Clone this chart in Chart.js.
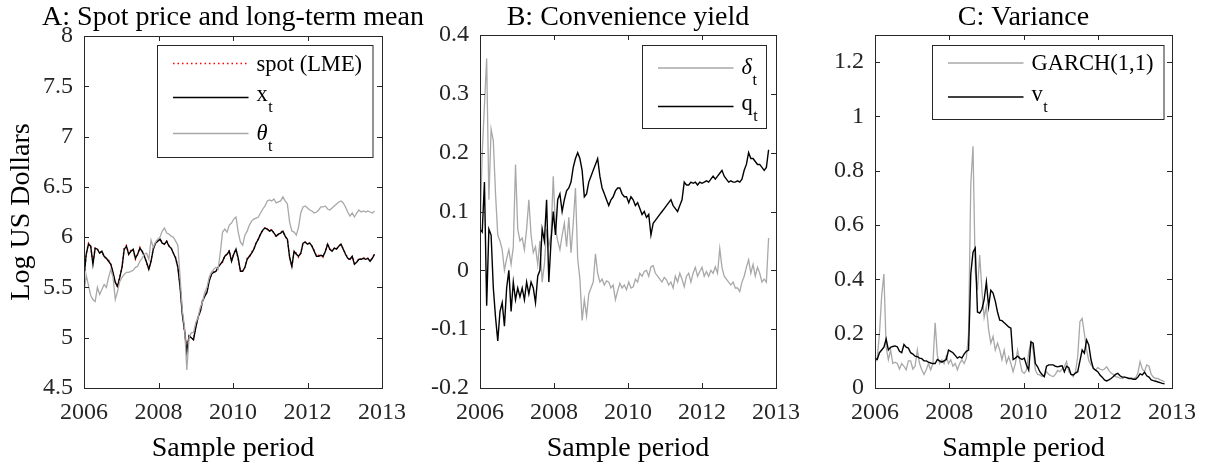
<!DOCTYPE html>
<html>
<head>
<meta charset="utf-8">
<script src="https://cdn.jsdelivr.net/npm/chart.js@4.4.1/dist/chart.umd.min.js"></script>
<style>
  html, body { margin: 0; padding: 0; background: #fff; }
  #wrap { position: relative; width: 1207px; height: 466px; }
  canvas { position: absolute; left: 0; top: 0; }
</style>
</head>
<body>
<div id="wrap">
  <canvas id="panelA" width="1207" height="466"></canvas>
  <canvas id="panelB" width="1207" height="466"></canvas>
  <canvas id="panelC" width="1207" height="466"></canvas>
</div>
<script>
const weekStep = 3;
const xTickValues = [0, 100, 200, 300, 400];
const xTickLabels = ["2006", "2008", "2010", "2012", "2013"];

// A: spot price and long-term mean
const spotLME = [
  5.58, 5.84, 5.94, 5.91, 5.74, 5.9, 5.88, 5.85, 5.86, 5.8,
  5.79, 5.77, 5.73, 5.64, 5.56, 5.5, 5.61, 5.7, 5.9, 5.92,
  5.83, 5.87, 5.88, 5.78, 5.83, 5.9, 5.86, 5.82, 5.74, 5.68,
  5.77, 5.89, 5.94, 5.97, 5.98, 5.95, 5.93, 5.96, 5.92, 5.89,
  5.84, 5.8, 5.7, 5.52, 5.25, 5.06, 4.87, 5.03, 4.99, 4.98,
  5.11, 5.21, 5.25, 5.37, 5.41, 5.46, 5.57, 5.62, 5.65, 5.67,
  5.7, 5.74, 5.75, 5.82, 5.83, 5.87, 5.76, 5.84, 5.88, 5.78,
  5.66, 5.67, 5.7, 5.79, 5.8, 5.85, 5.88, 5.95, 5.98, 6.04,
  6.07, 6.1, 6.08, 6.06, 6.08, 6.04, 6.0, 6.03, 6.05, 6.06,
  6.0, 5.98, 5.81, 5.7, 5.86, 5.84, 5.8, 5.84, 5.95, 5.95,
  5.94, 5.94, 5.91, 5.87, 5.81, 5.82, 5.82, 5.8, 5.86, 5.94,
  5.88, 5.87, 5.89, 5.88, 5.92, 5.93, 5.88, 5.84, 5.79, 5.77,
  5.81, 5.74, 5.75, 5.79, 5.78, 5.8, 5.78, 5.79, 5.77, 5.79,
  5.84
];
const xT = [
  5.6, 5.83, 5.93, 5.91, 5.73, 5.89, 5.88, 5.84, 5.86, 5.81,
  5.79, 5.76, 5.73, 5.65, 5.55, 5.51, 5.6, 5.7, 5.88, 5.91,
  5.83, 5.86, 5.88, 5.79, 5.83, 5.89, 5.86, 5.81, 5.75, 5.68,
  5.76, 5.88, 5.94, 5.96, 5.98, 5.94, 5.93, 5.96, 5.91, 5.89,
  5.84, 5.79, 5.7, 5.5, 5.23, 5.07, 4.86, 5.02, 5.0, 4.98,
  5.1, 5.2, 5.26, 5.36, 5.41, 5.45, 5.56, 5.63, 5.65, 5.66,
  5.7, 5.73, 5.76, 5.81, 5.83, 5.86, 5.76, 5.83, 5.88, 5.79,
  5.66, 5.66, 5.7, 5.78, 5.81, 5.84, 5.88, 5.94, 5.98, 6.03,
  6.07, 6.09, 6.08, 6.06, 6.07, 6.04, 6.01, 6.03, 6.04, 6.06,
  6.01, 5.98, 5.8, 5.71, 5.86, 5.83, 5.81, 5.84, 5.94, 5.95,
  5.93, 5.94, 5.91, 5.86, 5.81, 5.81, 5.82, 5.81, 5.86, 5.93,
  5.88, 5.86, 5.89, 5.88, 5.91, 5.93, 5.88, 5.83, 5.79, 5.78,
  5.81, 5.73, 5.75, 5.78, 5.78, 5.79, 5.78, 5.79, 5.76, 5.79,
  5.83
];
const thetaT = [
  5.45, 5.62, 5.52, 5.42, 5.38, 5.36, 5.5, 5.43, 5.48, 5.53,
  5.5, 5.6, 5.68, 5.6, 5.38, 5.46, 5.56, 5.6, 5.63, 5.65,
  5.65, 5.66, 5.67, 5.7, 5.71, 5.76, 5.79, 5.83, 5.84, 5.78,
  5.97, 5.9, 5.95, 5.98, 6.0, 6.06, 6.09, 6.04, 6.03, 6.01,
  6.0, 5.96, 5.92, 5.6, 5.27, 5.1, 4.68, 5.0, 5.05, 5.05,
  5.15, 5.2, 5.3, 5.35, 5.45, 5.5, 5.6, 5.65, 5.68, 5.7,
  5.68, 5.85, 6.05, 6.08, 6.05, 6.12, 6.14, 6.18, 6.2, 6.05,
  5.95, 5.92, 6.02, 6.06, 6.12, 6.16, 6.18, 6.19, 6.2, 6.24,
  6.28, 6.31, 6.36, 6.37, 6.36, 6.38, 6.34, 6.35, 6.36, 6.4,
  6.36, 6.33, 6.15, 6.06, 6.05, 6.02, 6.1, 6.24, 6.3, 6.31,
  6.29, 6.27, 6.26, 6.24, 6.25, 6.27, 6.3, 6.3, 6.31, 6.28,
  6.27, 6.29, 6.31, 6.33, 6.35, 6.36, 6.34, 6.3, 6.25, 6.21,
  6.24, 6.2, 6.24, 6.27, 6.25, 6.26, 6.25, 6.26, 6.25, 6.24,
  6.26
];
const yTicksA = [4.5, 5, 5.5, 6, 6.5, 7, 7.5, 8];
const yLabelsA = ["4.5", "5", "5.5", "6", "6.5", "7", "7.5", "8"];

// B: convenience yield
const deltaT = [
  0.06, 0.2, 0.28, 0.36, 0.12, 0.24, 0.22, 0.13, 0.06, 0.05,
  0.035, 0.0, 0.02, 0.035, 0.01, 0.04, 0.18, 0.07, 0.05, 0.055,
  0.035, 0.07, 0.12, 0.06, 0.03, 0.04, 0.01, 0.05, -0.02, 0.01,
  0.07, 0.04, 0.06, 0.16, 0.07, 0.05, 0.035, 0.06, 0.08, 0.04,
  0.09, 0.03, 0.08, 0.14, 0.02, -0.015, -0.085, -0.05, -0.078, -0.04,
  -0.03, -0.02, 0.028, -0.005, -0.02, -0.015, -0.025, -0.018, -0.02, -0.03,
  -0.025, -0.05, -0.035, -0.022, -0.03, -0.025, -0.033, -0.02, -0.03, -0.028,
  -0.015, -0.02, -0.005, -0.01, -0.002, 0.0, -0.01, 0.006, 0.008, -0.005,
  -0.01, -0.015, -0.02, -0.012, -0.016, -0.025, -0.02, -0.03, -0.01, -0.02,
  -0.005, -0.015, -0.028, -0.01, -0.005, -0.02, -0.005, 0.005, -0.01, -0.002,
  0.005, -0.01, -0.002, -0.01, 0.0, -0.005, 0.006, -0.005, 0.037, 0.005,
  -0.01, -0.015, -0.02, -0.025, -0.02, -0.03, -0.03, -0.036, -0.02, -0.01,
  0.005, 0.018, -0.005, 0.01, -0.01, 0.005, -0.005, -0.02, -0.015, -0.02,
  0.055
];
const qT = [
  0.07, 0.065, 0.15, -0.06, 0.07, 0.06, -0.03, -0.08, -0.12, -0.07,
  -0.055, -0.095, -0.03, 0.0, -0.07, -0.02, -0.05, -0.03, -0.045, -0.03,
  -0.05, -0.02, -0.04, -0.02, -0.03, -0.055, -0.01, 0.0, 0.07, 0.05,
  0.12, -0.02, 0.05, 0.1, 0.06, 0.12, 0.13, 0.1, 0.12, 0.135,
  0.14, 0.15, 0.175, 0.19, 0.2, 0.19, 0.17, 0.125, 0.13, 0.15,
  0.16, 0.17, 0.18, 0.19, 0.16, 0.14, 0.13, 0.12, 0.11, 0.12,
  0.125, 0.135, 0.14, 0.14, 0.13, 0.125, 0.125, 0.115, 0.125, 0.12,
  0.11, 0.115, 0.105, 0.095, 0.1, 0.09, 0.095, 0.06, 0.08, 0.085,
  0.09, 0.095, 0.1, 0.105, 0.11, 0.115, 0.12, 0.11, 0.105, 0.1,
  0.11, 0.12, 0.15, 0.145, 0.145, 0.15, 0.148, 0.15, 0.145, 0.15,
  0.148, 0.15, 0.152, 0.15, 0.155, 0.16, 0.155, 0.16, 0.165, 0.17,
  0.16, 0.155, 0.15, 0.152, 0.15, 0.15, 0.152, 0.15, 0.155, 0.17,
  0.18, 0.2, 0.19, 0.19, 0.185, 0.18, 0.18, 0.175, 0.17, 0.175,
  0.205
];
const yTicksB = [-0.2, -0.1, 0, 0.1, 0.2, 0.3, 0.4];
const yLabelsB = ["-0.2", "-0.1", "0", "0.1", "0.2", "0.3", "0.4"];

// C: variance
const garch = [
  0.092, 0.11, 0.2, 0.34, 0.42, 0.15, 0.104, 0.14, 0.09, 0.095,
  0.09, 0.07, 0.09, 0.08, 0.067, 0.1, 0.1, 0.07, 0.08, 0.14,
  0.09, 0.067, 0.05, 0.067, 0.09, 0.067, 0.09, 0.24, 0.12, 0.09,
  0.104, 0.09, 0.117, 0.09, 0.104, 0.08, 0.09, 0.067, 0.09, 0.104,
  0.09, 0.11, 0.2, 0.75, 0.89, 0.43, 0.36, 0.49, 0.36, 0.26,
  0.3, 0.215, 0.165, 0.19, 0.14, 0.165, 0.14, 0.104, 0.14, 0.092,
  0.115, 0.09, 0.06, 0.09, 0.14, 0.1, 0.06, 0.054, 0.066, 0.13,
  0.17, 0.14, 0.066, 0.05, 0.048, 0.042, 0.045, 0.06, 0.05, 0.045,
  0.042, 0.05, 0.065, 0.06, 0.07, 0.078, 0.097, 0.06, 0.05, 0.042,
  0.06, 0.115, 0.244, 0.256, 0.2, 0.14, 0.1, 0.085, 0.075, 0.066,
  0.075, 0.07, 0.066, 0.07, 0.078, 0.065, 0.055, 0.05, 0.042, 0.04,
  0.036, 0.035, 0.04, 0.038, 0.035, 0.036, 0.035, 0.038, 0.054, 0.097,
  0.07, 0.06, 0.085, 0.08, 0.05, 0.04, 0.035, 0.035, 0.03, 0.027,
  0.022
];
const vT = [
  0.11, 0.105, 0.13, 0.14, 0.15, 0.18, 0.14, 0.15, 0.153, 0.155,
  0.152, 0.135, 0.13, 0.16, 0.15, 0.147, 0.13, 0.125, 0.117, 0.115,
  0.11, 0.108, 0.1, 0.1, 0.095, 0.092, 0.09, 0.09, 0.105, 0.1,
  0.095, 0.1, 0.105, 0.14, 0.135, 0.13, 0.12, 0.11, 0.115, 0.11,
  0.125, 0.135, 0.14, 0.42, 0.5, 0.515, 0.28, 0.276, 0.29, 0.325,
  0.39, 0.3, 0.36, 0.35, 0.32, 0.28, 0.25, 0.248, 0.24, 0.233,
  0.225, 0.22, 0.105, 0.11, 0.117, 0.11, 0.105, 0.11, 0.085, 0.066,
  0.17, 0.165, 0.09, 0.078, 0.06, 0.05, 0.042, 0.08, 0.085, 0.085,
  0.085, 0.08, 0.078, 0.08, 0.082, 0.06, 0.08, 0.075, 0.05, 0.048,
  0.055, 0.06, 0.1, 0.14, 0.128, 0.177, 0.158, 0.103, 0.072, 0.066,
  0.06, 0.048, 0.04, 0.03, 0.026, 0.03, 0.035, 0.042, 0.05, 0.054,
  0.045, 0.04, 0.04, 0.038, 0.035, 0.035, 0.032, 0.032, 0.04, 0.052,
  0.048, 0.058, 0.045, 0.04, 0.03, 0.027, 0.025, 0.022, 0.02, 0.017,
  0.015
];
const yTicksC = [0, 0.2, 0.4, 0.6, 0.8, 1, 1.2];
const yLabelsC = ["0", "0.2", "0.4", "0.6", "0.8", "1", "1.2"];

const weeks = xT.map((v, i) => i * weekStep);

const serif = "'Liberation Serif', 'Times New Roman', serif";
const axisColor = "#262626";
const gray = "#a8a8a8";

// box, inward ticks, titles and legend drawn the matlab way
const framePlugin = {
  id: "frame",
  afterDatasetsDraw(chart, args, opts) {
    const { ctx, chartArea: a, scales: { x, y } } = chart;
    const tl = 5;
    ctx.save();
    ctx.strokeStyle = axisColor;
    ctx.lineWidth = 1;
    ctx.beginPath();
    x.ticks.forEach((t) => {
      const px = Math.round(x.getPixelForValue(t.value)) + 0.5;
      ctx.moveTo(px, a.bottom); ctx.lineTo(px, a.bottom - tl);
      ctx.moveTo(px, a.top); ctx.lineTo(px, a.top + tl);
    });
    y.ticks.forEach((t) => {
      const py = Math.round(y.getPixelForValue(t.value)) + 0.5;
      ctx.moveTo(a.left, py); ctx.lineTo(a.left + tl, py);
      ctx.moveTo(a.right, py); ctx.lineTo(a.right - tl, py);
    });
    ctx.stroke();
    ctx.strokeRect(Math.round(a.left) + 0.5, Math.round(a.top) + 0.5,
      Math.round(a.right - a.left), Math.round(a.bottom - a.top));

    const cx = (a.left + a.right) / 2;
    ctx.fillStyle = "#000";
    ctx.textAlign = "center";
    ctx.textBaseline = "alphabetic";
    ctx.font = "28px " + serif;
    ctx.fillText(opts.title, cx, 25);
    ctx.fillText("Sample period", cx, 456);
    if (opts.yTitle) {
      ctx.save();
      ctx.translate(29, (a.top + a.bottom) / 2);
      ctx.rotate(-Math.PI / 2);
      ctx.fillText(opts.yTitle, 0, 0);
      ctx.restore();
    }

    // legend
    const lg = opts.legend;
    const bx = Math.round(a.right - lg.right - lg.width) + 0.5;
    const by = Math.round(a.top + lg.top) + 0.5;
    ctx.fillStyle = "#fff";
    ctx.fillRect(bx, by, lg.width, lg.height);
    ctx.strokeStyle = axisColor;
    ctx.strokeRect(bx, by, lg.width, lg.height);
    chart.data.datasets.forEach((ds, i) => {
      const ry = by + lg.rows[i];
      ctx.save();
      ctx.strokeStyle = ds.borderColor;
      ctx.lineWidth = ds.borderWidth;
      ctx.setLineDash(ds.borderDash || []);
      ctx.beginPath();
      ctx.moveTo(bx + 15.5, ry);
      ctx.lineTo(bx + 91, ry);
      ctx.stroke();
      ctx.restore();
      const [main, sub] = ds.label.split("_");
      const greek = /[\u0370-\u03ff]/.test(main);
      const base = ry + (sub ? (greek ? 6 : 3.5) : 7);
      ctx.fillStyle = "#000";
      ctx.textAlign = "left";
      ctx.font = (greek ? "italic " : "") + "22.5px " + serif;
      ctx.fillText(main, bx + 99, base);
      if (sub) {
        const w = ctx.measureText(main).width;
        ctx.font = "16px " + serif;
        ctx.fillText(sub, bx + 99 + w + 0.5, base + 11);
      }
    });
    ctx.restore();
  }
};

function makeChart(id, datasets, yTicks, yLabels, padding, frame) {
  return new Chart(document.getElementById(id), {
    type: "line",
    data: { labels: weeks, datasets: datasets },
    options: {
      responsive: false,
      animation: false,
      devicePixelRatio: 1,
      layout: { padding: padding },
      elements: { point: { radius: 0 }, line: { tension: 0 } },
      plugins: { legend: { display: false }, tooltip: { enabled: false }, frame: frame },
      scales: {
        x: {
          type: "linear",
          min: 0,
          max: 400,
          grid: { display: false, drawTicks: false },
          border: { display: false },
          afterBuildTicks: (s) => { s.ticks = xTickValues.map((v) => ({ value: v })); },
          afterFit: (s) => { s.height = 50; s.paddingLeft = 0; s.paddingRight = 0; },
          ticks: {
            padding: 10,
            color: axisColor,
            maxRotation: 0,
            autoSkip: false,
            font: { family: serif, size: 24 },
            callback: (v, i) => xTickLabels[i]
          }
        },
        y: {
          min: yTicks[0],
          max: yTicks[yTicks.length - 1] + (frame.yPad || 0),
          grid: { display: false, drawTicks: false },
          border: { display: false },
          afterBuildTicks: (s) => { s.ticks = yTicks.map((v) => ({ value: v })); },
          afterFit: (s) => { s.width = 60; s.paddingTop = 0; s.paddingBottom = 0; },
          ticks: {
            padding: 11,
            color: axisColor,
            autoSkip: false,
            font: { family: serif, size: 24 },
            callback: (v, i) => yLabels[i]
          }
        }
      }
    },
    plugins: [framePlugin]
  });
}

makeChart("panelA", [
  { label: "spot (LME)", data: spotLME, borderColor: "#ff0000", borderWidth: 1.4, borderDash: [1.5, 3], order: 2 },
  { label: "x_t", data: xT, borderColor: "#000000", borderWidth: 1.4, order: 1 },
  { label: "\u03b8_t", data: thetaT, borderColor: gray, borderWidth: 1.3, order: 0 }
], yTicksA, yLabelsA, { left: 24, right: 825, top: 36, bottom: 28 }, {
  title: "A: Spot price and long-term mean",
  yTitle: "Log US Dollars",
  legend: { right: 9.5, top: 9, width: 215.5, height: 112, rows: [18, 52, 88] }
});

makeChart("panelB", [
  { label: "\u03b4_t", data: deltaT, borderColor: gray, borderWidth: 1.3, order: 1 },
  { label: "q_t", data: qT, borderColor: "#000000", borderWidth: 1.4, order: 0 }
], yTicksB, yLabelsB, { left: 420, right: 431, top: 35, bottom: 28 }, {
  title: "B: Convenience yield",
  legend: { right: 10, top: 10, width: 124, height: 83, rows: [22.5, 61] }
});

makeChart("panelC", [
  { label: "GARCH(1,1)", data: garch, borderColor: gray, borderWidth: 1.3, order: 1 },
  { label: "v_t", data: vT, borderColor: "#000000", borderWidth: 1.4, order: 0 }
], yTicksC, yLabelsC, { left: 815, right: 35, top: 35, bottom: 28 }, {
  title: "C: Variance",
  yPad: 0.1,
  legend: { right: 8.5, top: 10, width: 231.5, height: 74, rows: [17.5, 51.5] }
});
</script>
</body>
</html>
